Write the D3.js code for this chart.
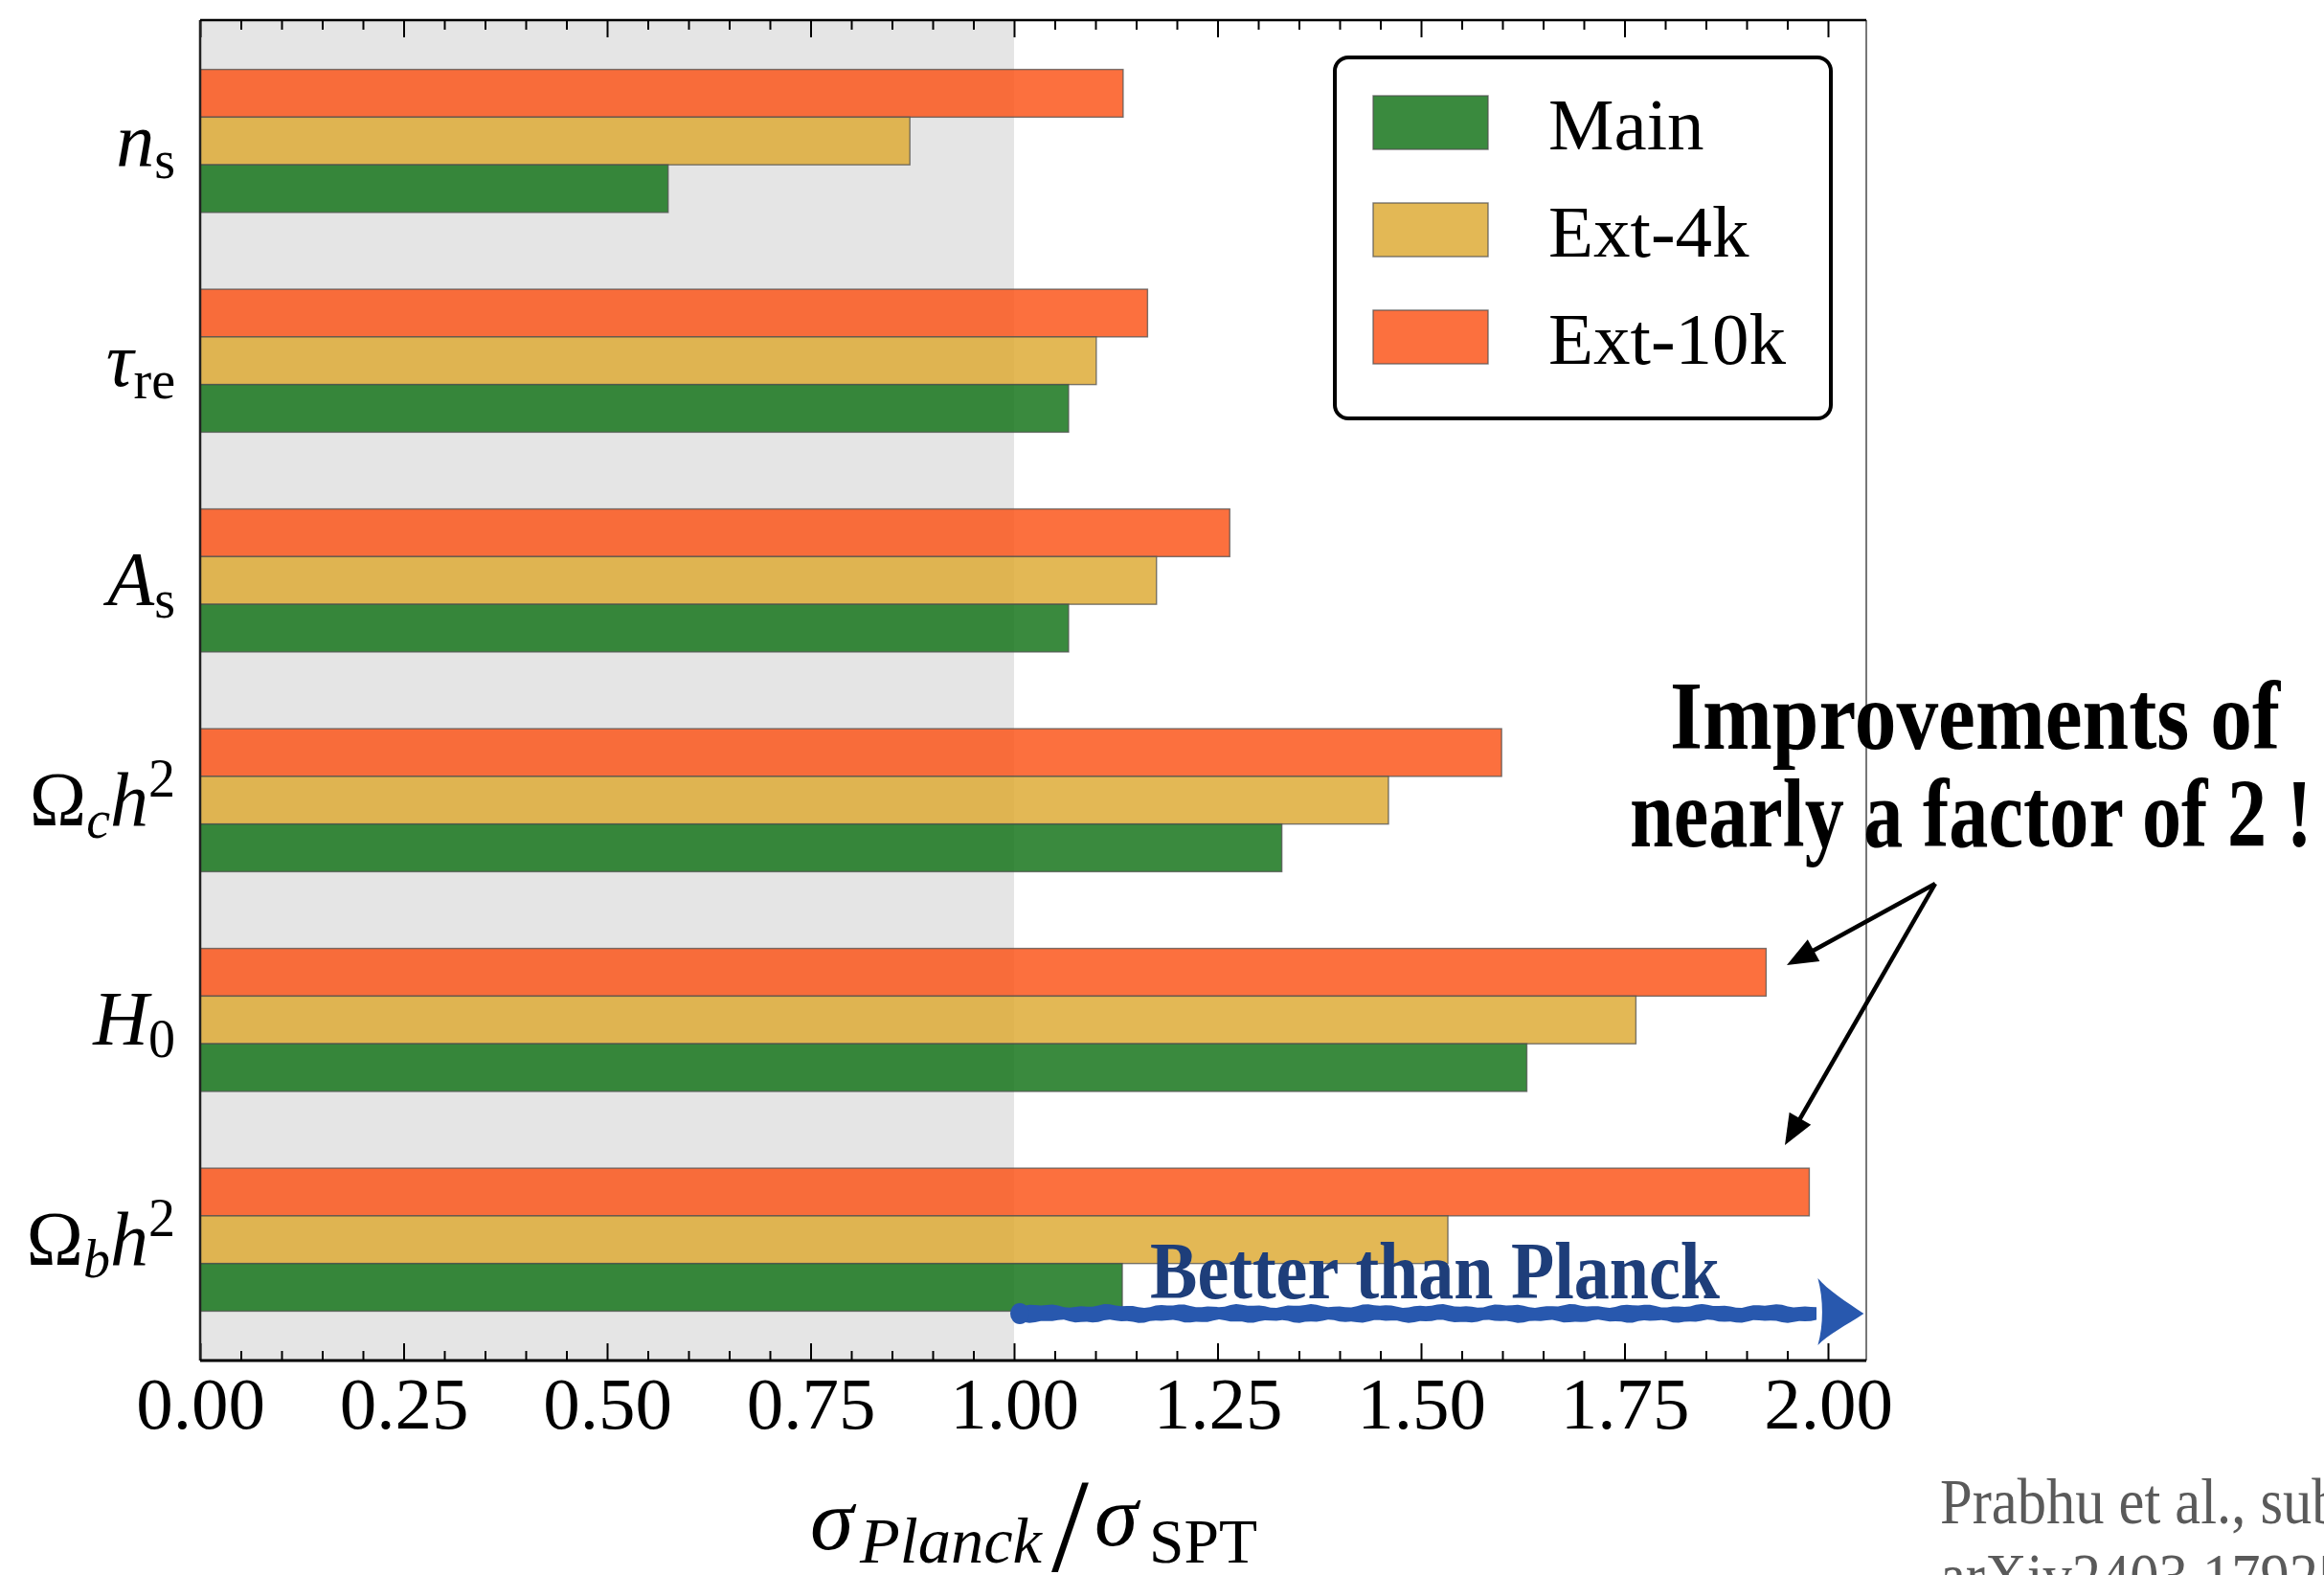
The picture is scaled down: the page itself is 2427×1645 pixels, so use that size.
<!DOCTYPE html>
<html>
<head>
<meta charset="utf-8">
<script src="https://cdn.jsdelivr.net/npm/d3@7"></script>
<style>
  html, body { margin: 0; padding: 0; background: #ffffff; }
  svg { display: block; }
</style>
</head>
<body>
<div id="chart"></div>
<script>
// ---------------- DATA ----------------
const params = ["ns", "tau", "As", "Och2", "H0", "Obh2"];   // top to bottom
const seriesNames = ["Main", "Ext-4k", "Ext-10k"];
const mainValues  = [0.575, 1.067, 1.067, 1.329, 1.630, 1.133];
const ext4kValues = [0.872, 1.101, 1.175, 1.460, 1.764, 1.533];
const ext10kValues = [1.134, 1.164, 1.265, 1.599, 1.924, 1.977];
const majorTicks = [0, 0.25, 0.5, 0.75, 1.0, 1.25, 1.5, 1.75, 2.0];
const xLabel = {num: "σ", numSub: "Planck", den: "σ", denSub: "SPT"};
const annotationLines = ["Improvements of", "nearly a factor of 2 !"];
const betterText = "Better than Planck";
const citationLines = ["Prabhu et al., submitted", "arXiv2403.17925"];

// ---------------- LAYOUT ----------------
const W = 2427, H = 1645;
const plot = {left: 209, right: 1949, top: 21, bottom: 1421};
const serif = "'Liberation Serif', 'Times New Roman', Times, serif";

const x = d3.scaleLinear().domain([0, 2]).range([plot.left, 1909]);
const y = d3.scaleLinear().domain([-0.55, 5.55]).range([plot.top, plot.bottom]);
const barUnits = 0.2169;
const barH = y(barUnits) - y(0);

const colors = {"Main": "#18751c", "Ext-4k": "#deab37", "Ext-10k": "#fb571c"};
const barOpacity = 0.85;

const series = [
  {name: "Ext-10k", values: ext10kValues, offset: -1},
  {name: "Ext-4k",  values: ext4kValues,  offset: 0},
  {name: "Main",    values: mainValues,   offset: 1}
];

const svg = d3.select("#chart").append("svg")
  .attr("width", W).attr("height", H)
  .attr("viewBox", `0 0 ${W} ${H}`);

svg.append("rect").attr("width", W).attr("height", H).attr("fill", "#ffffff");

// shaded region (0 .. 1)
svg.append("rect")
  .attr("x", x(0)).attr("y", plot.top)
  .attr("width", x(1) - x(0)).attr("height", plot.bottom - plot.top)
  .attr("fill", "#e5e5e5");

// bars
const barData = [];
series.forEach(s => {
  s.values.forEach((v, i) => {
    barData.push({name: s.name, value: v, idx: i, offset: s.offset});
  });
});
svg.append("g").selectAll("rect").data(barData).join("rect")
  .attr("x", x(0))
  .attr("y", d => y(d.idx) + (d.offset - 0.5) * barH)
  .attr("width", d => x(d.value) - x(0))
  .attr("height", barH)
  .attr("fill", d => colors[d.name])
  .attr("fill-opacity", barOpacity)
  .attr("stroke", "#505050")
  .attr("stroke-opacity", 0.75)
  .attr("stroke-width", 1.4);

// ---------------- AXES ----------------
const minorTicks = d3.range(0, 201, 5).map(v => v / 100).filter(v => !majorTicks.some(m => Math.abs(m - v) < 1e-9));

function styleAxis(g) {
  g.select(".domain").remove();
  g.selectAll(".tick line").attr("stroke", "#000").attr("stroke-width", 2);
}

const gBottom = svg.append("g").attr("transform", `translate(0,${plot.bottom})`)
  .call(d3.axisBottom(x).tickValues(majorTicks).tickSize(-18).tickPadding(16).tickFormat(d3.format(".2f")));
styleAxis(gBottom);
gBottom.selectAll(".tick text").attr("font-family", serif).attr("font-size", 77).attr("fill", "#000");

svg.append("g").attr("transform", `translate(0,${plot.bottom})`)
  .call(d3.axisBottom(x).tickValues(minorTicks).tickSize(-10).tickFormat(""))
  .call(styleAxis);

svg.append("g").attr("transform", `translate(0,${plot.top})`)
  .call(d3.axisTop(x).tickValues(majorTicks).tickSize(-18).tickFormat(""))
  .call(styleAxis);
svg.append("g").attr("transform", `translate(0,${plot.top})`)
  .call(d3.axisTop(x).tickValues(minorTicks).tickSize(-10).tickFormat(""))
  .call(styleAxis);

// frame
svg.append("line").attr("x1", plot.right).attr("x2", plot.right).attr("y1", plot.top).attr("y2", plot.bottom)
  .attr("stroke", "#555").attr("stroke-width", 1.6);
svg.append("line").attr("x1", plot.left).attr("x2", plot.left).attr("y1", plot.top).attr("y2", plot.bottom)
  .attr("stroke", "#222").attr("stroke-width", 2.5);
svg.append("line").attr("x1", plot.left).attr("x2", plot.right).attr("y1", plot.top).attr("y2", plot.top)
  .attr("stroke", "#000").attr("stroke-width", 2.5);
svg.append("line").attr("x1", plot.left).attr("x2", plot.right).attr("y1", plot.bottom).attr("y2", plot.bottom)
  .attr("stroke", "#000").attr("stroke-width", 3);

// y labels (math)
const labelParts = {
  ns:   [{t: "n", it: true}, {t: "s", sub: true}],
  tau:  [{t: "τ", it: true}, {t: "re", sub: true}],
  As:   [{t: "A", it: true}, {t: "s", sub: true}],
  Och2: [{t: "Ω"}, {t: "c", sub: true, it: true}, {t: "h", it: true}, {t: "2", sup: true}],
  H0:   [{t: "H", it: true}, {t: "0", sub: true}],
  Obh2: [{t: "Ω"}, {t: "b", sub: true, it: true}, {t: "h", it: true}, {t: "2", sup: true}]
};
const mainFs = 80, subFs = 56;
params.forEach((p, i) => {
  const t = svg.append("text")
    .attr("x", 183).attr("y", y(i) + 26)
    .attr("text-anchor", "end")
    .attr("font-family", serif).attr("font-size", mainFs).attr("fill", "#000");
  let level = 0;
  labelParts[p].forEach(part => {
    let target = 0, fs = mainFs;
    if (part.sub) { target = 13; fs = subFs; }
    if (part.sup) { target = -30; fs = subFs; }
    const dy = target - level;
    level = target;
    t.append("tspan")
      .attr("dy", dy)
      .attr("font-size", fs)
      .attr("font-style", part.it ? "italic" : "normal")
      .text(part.t);
  });
});

// x label, pieces placed around the plot centre
const cx = (plot.left + plot.right) / 2;
const xlG = svg.append("g").attr("font-family", serif).attr("fill", "#000");
xlG.append("text").attr("x", cx - 233).attr("y", 1618).attr("font-size", 92).attr("font-style", "italic").text(xLabel.num);
xlG.append("text").attr("x", cx - 181).attr("y", 1632).attr("font-size", 67).attr("font-style", "italic")
  .attr("textLength", 190).attr("lengthAdjust", "spacingAndGlyphs").text(xLabel.numSub);
xlG.append("text").attr("x", cx + 19).attr("y", 1641).attr("font-size", 140).text("/");
xlG.append("text").attr("x", cx + 64).attr("y", 1614).attr("font-size", 92).attr("font-style", "italic").text(xLabel.den);
xlG.append("text").attr("x", cx + 121).attr("y", 1632).attr("font-size", 66)
  .attr("textLength", 113).attr("lengthAdjust", "spacingAndGlyphs").text(xLabel.denSub);

// ---------------- LEGEND ----------------
const legend = svg.append("g");
legend.append("rect")
  .attr("x", 1394).attr("y", 60).attr("width", 518).attr("height", 377)
  .attr("rx", 14).attr("ry", 14)
  .attr("fill", "#fff").attr("stroke", "#000").attr("stroke-width", 4);
const legendRow = d3.scalePoint().domain(seriesNames).range([128, 352]);
seriesNames.forEach(name => {
  legend.append("rect")
    .attr("x", 1434).attr("y", legendRow(name) - 28)
    .attr("width", 120).attr("height", 56)
    .attr("fill", colors[name]).attr("fill-opacity", barOpacity)
    .attr("stroke", "#505050").attr("stroke-opacity", 0.75).attr("stroke-width", 1.4);
  legend.append("text")
    .attr("x", 1617).attr("y", legendRow(name) + 28)
    .attr("font-family", serif).attr("font-size", 77).attr("fill", "#000")
    .text(name);
});

// ---------------- ANNOTATIONS ----------------
// blue hand-drawn arrow
const blue = "#2858ae";
const bx0 = x(1.0) - 4, bx1 = x(2.044), byc = 1372;
const headBase = bx1 - 48;
const topPts = [], botPts = [];
for (let xx = bx0 + 8; xx <= headBase + 3; xx += 6) {
  topPts.push([xx, byc - 8 + 1.3 * Math.sin(xx / 11) + 0.8 * Math.sin(xx / 4.3)]);
  botPts.push([xx, byc + 8 + 1.2 * Math.sin(xx / 9 + 1.3) + 0.7 * Math.sin(xx / 3.7)]);
}
const bandPath = "M" + topPts.map(p => p.join(",")).join("L") +
  "L" + botPts.slice().reverse().map(p => p.join(",")).join("L") + "Z";
svg.append("path").attr("d", bandPath).attr("fill", blue);
svg.append("ellipse").attr("cx", bx0 + 10).attr("cy", byc).attr("rx", 10).attr("ry", 11).attr("fill", blue);
svg.append("path")
  .attr("d", `M${headBase},${byc - 37} C${headBase + 10},${byc - 25} ${headBase + 30},${byc - 12} ${bx1},${byc}
              C${headBase + 30},${byc + 12} ${headBase + 10},${byc + 22} ${headBase},${byc + 33}
              C${headBase + 6},${byc + 12} ${headBase + 6},${byc - 15} ${headBase},${byc - 37} Z`)
  .attr("fill", blue);

svg.append("text")
  .attr("x", 1201).attr("y", 1356)
  .attr("font-family", serif).attr("font-weight", "bold").attr("font-size", 85)
  .attr("fill", "#1e3e7a")
  .attr("textLength", 595).attr("lengthAdjust", "spacingAndGlyphs")
  .text(betterText);

// improvement annotation text
svg.append("text")
  .attr("x", 1744).attr("y", 782)
  .attr("font-family", serif).attr("font-weight", "bold").attr("font-size", 101).attr("fill", "#000")
  .attr("textLength", 637).attr("lengthAdjust", "spacingAndGlyphs")
  .text(annotationLines[0]);
svg.append("text")
  .attr("x", 1702).attr("y", 884)
  .attr("font-family", serif).attr("font-weight", "bold").attr("font-size", 101).attr("fill", "#000")
  .attr("textLength", 713).attr("lengthAdjust", "spacingAndGlyphs")
  .text(annotationLines[1]);

// black arrows
function arrow(x1, y1, x2, y2) {
  const dx = x2 - x1, dy = y2 - y1, L = Math.hypot(dx, dy);
  const ux = dx / L, uy = dy / L, nx = -uy, ny = ux;
  const len = 32, w = 13;
  const bxp = x2 - ux * len, byp = y2 - uy * len;
  svg.append("line").attr("x1", x1).attr("y1", y1).attr("x2", bxp + ux * 4).attr("y2", byp + uy * 4)
    .attr("stroke", "#000").attr("stroke-width", 4.5);
  svg.append("path")
    .attr("d", `M${x2},${y2}L${bxp + nx * w},${byp + ny * w}L${bxp - nx * w},${byp - ny * w}Z`)
    .attr("fill", "#000");
}
arrow(2021, 923, 1866, 1008);
arrow(2021, 923, 1864, 1196);

// citation
citationLines.forEach((line, i) => {
  svg.append("text")
    .attr("transform", `translate(2026,${1591 + i * 78}) scale(0.89,1)`)
    .attr("font-family", serif).attr("font-size", 68).attr("fill", "#5a5a5a")
    .text(line);
});
</script>
</body>
</html>
